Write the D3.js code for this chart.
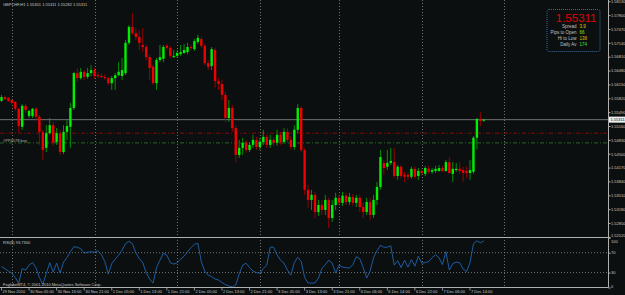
<!DOCTYPE html>
<html>
<head>
<meta charset="utf-8">
<script src="https://cdn.jsdelivr.net/npm/d3@7"></script>
<style>
  body { margin: 0; background: #0b0f10; }
  svg { display: block; font-family: "Liberation Sans", Arial, sans-serif; }
</style>
</head>
<body>
<svg id="chart" width="625" height="295"></svg>
<script>
// GBPCHF H1 candles, 29 Nov 21:00 .. 7 Dec 2010
const symbol = "GBPCHF,H1";
const lastQuote = ["1.55301", "1.55311", "1.55282", "1.55311"];

const opens = [
  1.5576,1.5585,1.5583,1.5578,1.5573,1.5557,1.5514,1.5564,1.5540,1.5540,
  1.5557,1.5538,1.5502,1.5464,1.5499,1.5518,1.5478,1.5499,1.5454,1.5502,
  1.5514,1.5559,1.5642,1.5630,1.5645,1.5633,1.5642,1.5649,1.5637,1.5635,
  1.5633,1.5630,1.5618,1.5630,1.5637,1.5635,1.5642,1.5714,1.5752,1.5737,
  1.5728,1.5709,1.5704,1.5680,1.5657,1.5618,1.5673,1.5676,1.5707,1.5702,
  1.5680,1.5683,1.5687,1.5690,1.5692,1.5704,1.5699,1.5716,1.5723,1.5707,
  1.5666,1.5659,1.5697,1.5623,1.5616,1.5590,1.5535,1.5559,1.5511,1.5447,
  1.5464,1.5476,1.5459,1.5471,1.5483,1.5466,1.5478,1.5490,1.5471,1.5483,
  1.5476,1.5495,1.5478,1.5502,1.5483,1.5466,1.5507,1.5559,1.5459,1.5364,
  1.5340,1.5352,1.5311,1.5328,1.5316,1.5340,1.5297,1.5328,1.5345,1.5333,
  1.5350,1.5335,1.5347,1.5333,1.5345,1.5323,1.5311,1.5335,1.5304,1.5340,
  1.5371,1.5428,1.5419,1.5428,1.5430,1.5397,1.5419,1.5400,1.5400,1.5395,
  1.5414,1.5397,1.5409,1.5402,1.5414,1.5407,1.5409,1.5409,1.5416,1.5409,
  1.5430,1.5402,1.5411,1.5414,1.5411,1.5409,1.5404,1.5407,1.5488,1.5533,
  1.5529
];
const highs = [
  1.5590,1.5588,1.5585,1.5580,1.5576,1.5559,1.5568,1.5568,1.5554,1.5559,
  1.5561,1.5542,1.5507,1.5518,1.5535,1.5526,1.5511,1.5507,1.5518,1.5530,
  1.5571,1.5645,1.5654,1.5654,1.5649,1.5654,1.5661,1.5654,1.5645,1.5642,
  1.5640,1.5633,1.5635,1.5642,1.5668,1.5678,1.5721,1.5756,1.5785,1.5749,
  1.5745,1.5749,1.5709,1.5685,1.5661,1.5678,1.5709,1.5709,1.5711,1.5707,
  1.5697,1.5697,1.5709,1.5711,1.5714,1.5709,1.5723,1.5733,1.5728,1.5711,
  1.5673,1.5704,1.5702,1.5630,1.5626,1.5597,1.5578,1.5566,1.5518,1.5483,
  1.5488,1.5483,1.5478,1.5495,1.5490,1.5488,1.5507,1.5495,1.5495,1.5490,
  1.5507,1.5502,1.5511,1.5511,1.5492,1.5518,1.5568,1.5564,1.5464,1.5376,
  1.5364,1.5359,1.5340,1.5340,1.5352,1.5345,1.5340,1.5357,1.5352,1.5359,
  1.5357,1.5357,1.5354,1.5352,1.5352,1.5333,1.5345,1.5345,1.5352,1.5383,
  1.5459,1.5435,1.5459,1.5464,1.5464,1.5423,1.5423,1.5407,1.5404,1.5419,
  1.5419,1.5416,1.5414,1.5421,1.5421,1.5416,1.5421,1.5423,1.5421,1.5435,
  1.5442,1.5430,1.5428,1.5430,1.5419,1.5419,1.5435,1.5492,1.5535,1.5549,
  1.5533
];
const lows = [
  1.5573,1.5578,1.5573,1.5568,1.5552,1.5502,1.5507,1.5547,1.5535,1.5535,
  1.5530,1.5471,1.5435,1.5454,1.5495,1.5469,1.5471,1.5447,1.5449,1.5483,
  1.5464,1.5554,1.5621,1.5626,1.5626,1.5628,1.5635,1.5628,1.5630,1.5630,
  1.5626,1.5614,1.5602,1.5602,1.5635,1.5626,1.5637,1.5709,1.5733,1.5721,
  1.5697,1.5692,1.5673,1.5626,1.5614,1.5602,1.5668,1.5668,1.5697,1.5678,
  1.5678,1.5678,1.5683,1.5687,1.5687,1.5697,1.5695,1.5711,1.5702,1.5661,
  1.5649,1.5649,1.5607,1.5602,1.5578,1.5526,1.5526,1.5502,1.5430,1.5440,
  1.5447,1.5452,1.5454,1.5464,1.5459,1.5459,1.5471,1.5464,1.5464,1.5469,
  1.5469,1.5471,1.5473,1.5476,1.5459,1.5459,1.5499,1.5454,1.5352,1.5321,
  1.5316,1.5297,1.5302,1.5304,1.5304,1.5273,1.5288,1.5316,1.5326,1.5326,
  1.5328,1.5328,1.5326,1.5323,1.5311,1.5297,1.5304,1.5292,1.5297,1.5328,
  1.5364,1.5400,1.5411,1.5423,1.5392,1.5388,1.5392,1.5383,1.5388,1.5390,
  1.5390,1.5388,1.5400,1.5397,1.5402,1.5402,1.5404,1.5407,1.5407,1.5407,
  1.5402,1.5383,1.5407,1.5402,1.5383,1.5392,1.5388,1.5402,1.5461,1.5516,
  1.5526
];
const closes = [
  1.5585,1.5580,1.5576,1.5571,1.5557,1.5516,1.5564,1.5554,1.5552,1.5557,
  1.5538,1.5502,1.5459,1.5499,1.5518,1.5476,1.5499,1.5454,1.5502,1.5516,
  1.5559,1.5642,1.5630,1.5645,1.5633,1.5642,1.5649,1.5635,1.5635,1.5633,
  1.5630,1.5618,1.5630,1.5637,1.5645,1.5649,1.5714,1.5752,1.5737,1.5728,
  1.5714,1.5704,1.5680,1.5654,1.5618,1.5673,1.5680,1.5704,1.5702,1.5683,
  1.5683,1.5690,1.5692,1.5697,1.5704,1.5702,1.5718,1.5726,1.5707,1.5666,
  1.5657,1.5699,1.5623,1.5616,1.5590,1.5535,1.5559,1.5511,1.5447,1.5464,
  1.5476,1.5459,1.5471,1.5483,1.5466,1.5478,1.5490,1.5471,1.5483,1.5476,
  1.5495,1.5478,1.5502,1.5483,1.5466,1.5507,1.5559,1.5459,1.5364,1.5340,
  1.5352,1.5311,1.5328,1.5316,1.5340,1.5297,1.5328,1.5345,1.5333,1.5350,
  1.5335,1.5347,1.5333,1.5345,1.5323,1.5311,1.5335,1.5304,1.5340,1.5371,
  1.5442,1.5416,1.5428,1.5433,1.5397,1.5419,1.5397,1.5395,1.5395,1.5414,
  1.5395,1.5409,1.5404,1.5416,1.5407,1.5411,1.5414,1.5416,1.5409,1.5430,
  1.5404,1.5414,1.5414,1.5409,1.5404,1.5404,1.5411,1.5488,1.5533,1.5528,
  1.5531
];

// RSI(8)
const rsi = [
  42,38,33,29,20,9,38,35,45,50,
  40,20,6,28,50,31,49,29,51,60,
  72,82,81,78,69,71,72,71,74,66,
  52,27,48,57,65,75,88,93,88,70,
  58,50,30,17,9,40,55,69,65,50,
  47,50,57,63,72,80,87,89,52,33,
  25,22,17,15,10,6,3,1,5,27,
  45,49,40,33,30,29,38,45,81,81,
  66,55,49,35,25,50,61,52,20,9,
  9,9,19,38,46,55,49,29,45,41,
  40,39,46,62,58,40,19,33,60,74,
  85,81,81,84,45,54,40,55,41,56,
  43,63,49,50,52,60,66,60,46,72,
  35,48,51,50,37,32,50,88,94,90,
  93.73
];

const timeLabels = ["29 Nov 2010", "30 Nov 05:00", "30 Nov 13:00", "30 Nov 21:00", "1 Dec 05:00",
  "1 Dec 13:00", "1 Dec 21:00", "2 Dec 05:00", "2 Dec 13:00", "2 Dec 21:00", "3 Dec 05:00",
  "3 Dec 13:00", "3 Dec 21:00", "6 Dec 06:00", "6 Dec 14:00", "6 Dec 22:00", "7 Dec 06:00", "7 Dec 14:00"];
const timeLabelBars = [0, 8, 16, 24, 32, 40, 48, 56, 64, 72, 80, 88, 96, 104, 112, 120, 128, 136];
const daySeparatorBars = [3, 27, 51, 75, 98, 122, 146];

const priceTicks = [1.5813, 1.5780, 1.5747, 1.5714, 1.5681, 1.5648, 1.5615, 1.5582, 1.5549,
  1.5516, 1.5483, 1.5450, 1.5417, 1.5384, 1.5351, 1.5318, 1.5285, 1.5252];
const rsiTicks = [100, 70, 30, 0];
const rsiLevels = [70, 30];

const bid = 1.55311;
const pivotRed = 1.5499;
const pivotGreen = 1.5476;
const pivotLabel = "#PP4578 buy";

const infoLabels = ["Spread", "Pips to Open", "Hi to Low", "Daily Av"];
const infoValues = ["3.9", "66", "138", "174"];
const infoColors = ["#e8c800", "#8ce000", "#e8b400", "#3ce03c"];

// layout
const W = 625, H = 295;
const plotRight = 608;
const mainTop = 0, mainBottom = 237.5;
const rsiTop = 237.8, rsiBottom = 287.5;
const fs = 4;

const svg = d3.select("#chart");

const x = d3.scaleLinear().domain([0, 176]).range([1.5, 607.8]);
const y = d3.scaleLinear().domain([1.5816 - mainBottom / 4200, 1.5816]).range([mainBottom, mainTop]);
const ry = d3.scaleLinear().domain([0, 100]).range([rsiBottom, rsiTop]);

svg.append("rect").attr("width", W).attr("height", H).attr("fill", "#0b0f10");

svg.append("defs").append("clipPath").attr("id", "mainClip")
  .append("rect").attr("x", 0).attr("y", 0).attr("width", plotRight).attr("height", mainBottom);

// vertical grid (day separators), both panes
const grid = svg.append("g").attr("stroke", "#8a8a8a").attr("stroke-width", 0.8)
  .attr("stroke-dasharray", "1,2");
grid.selectAll("line.v").data(daySeparatorBars).join("line")
  .attr("x1", d => Math.round(x(d)) + 0.5).attr("x2", d => Math.round(x(d)) + 0.5)
  .attr("y1", 0).attr("y2", rsiBottom);
grid.selectAll("line.h").data(rsiLevels).join("line")
  .attr("x1", 0).attr("x2", plotRight)
  .attr("y1", d => ry(d)).attr("y2", d => ry(d));

// pivot lines
svg.append("line").attr("x1", 0).attr("x2", plotRight)
  .attr("y1", y(pivotRed)).attr("y2", y(pivotRed))
  .attr("stroke", "#8c0a0a").attr("stroke-width", 1).attr("stroke-dasharray", "4,2,1,2");
svg.append("line").attr("x1", 0).attr("x2", plotRight)
  .attr("y1", y(pivotGreen)).attr("y2", y(pivotGreen))
  .attr("stroke", "#1c561c").attr("stroke-width", 1.2).attr("stroke-dasharray", "4,2,1,2");
svg.append("text").attr("x", 3).attr("y", y(pivotGreen) - 1)
  .attr("fill", "#b4b4b4").attr("font-size", fs).text(pivotLabel);

// bid line
svg.append("line").attr("x1", 0).attr("x2", plotRight)
  .attr("y1", y(bid)).attr("y2", y(bid))
  .attr("stroke", "#8c8c8c").attr("stroke-width", 0.8);

// candles
const bars = d3.range(opens.length).map(i => ({
  i, o: opens[i], h: highs[i], l: lows[i], c: closes[i]
}));
const candles = svg.append("g").attr("clip-path", "url(#mainClip)");
candles.selectAll("line").data(bars).join("line")
  .attr("x1", d => x(d.i)).attr("x2", d => x(d.i))
  .attr("y1", d => y(d.h)).attr("y2", d => y(d.l))
  .attr("stroke", d => d.c >= d.o ? "#00b400" : "#b40000")
  .attr("stroke-width", 0.8);
candles.selectAll("rect").data(bars).join("rect")
  .attr("x", d => x(d.i) - 1.2).attr("width", 2.4)
  .attr("y", d => y(Math.max(d.o, d.c)))
  .attr("height", d => Math.max(1, Math.abs(y(d.o) - y(d.c))))
  .attr("fill", d => d.c >= d.o ? "#00f000" : "#f00000");

// RSI line
svg.append("path")
  .datum(rsi)
  .attr("fill", "none").attr("stroke", "#1f64b0").attr("stroke-width", 0.9)
  .attr("d", d3.line().x((d, i) => x(i)).y(d => ry(d)));

// frames
const frame = svg.append("g").attr("stroke", "#b0b0b0").attr("stroke-width", 1);
frame.append("line").attr("x1", plotRight + 0.5).attr("x2", plotRight + 0.5).attr("y1", 0).attr("y2", rsiBottom);
frame.append("line").attr("x1", 0).attr("x2", plotRight + 0.5).attr("y1", 237.5).attr("y2", 237.5);
frame.append("line").attr("x1", 0).attr("x2", plotRight + 0.5).attr("y1", rsiBottom).attr("y2", rsiBottom);

// price axis
const priceAxis = svg.append("g").attr("transform", `translate(${plotRight + 0.5},0)`)
  .call(d3.axisRight(y).tickValues(priceTicks).tickSize(2).tickFormat(d3.format(".5f")));
priceAxis.select(".domain").remove();
priceAxis.selectAll("line").attr("stroke", "#b0b0b0");
priceAxis.selectAll("text").attr("fill", "#c8c8c8").attr("font-size", fs)
  .attr("font-family", "Liberation Sans, Arial, sans-serif").attr("x", 2.5);
priceAxis.selectAll(".tick").filter(d => d === priceTicks[priceTicks.length - 1])
  .select("text").attr("dy", "-0.2em");

// current price box
const bidG = svg.append("g").attr("transform", `translate(${plotRight + 1},${y(bid)})`);
bidG.append("rect").attr("x", 0).attr("y", -3).attr("width", 16).attr("height", 6).attr("fill", "#f0f0f0");
bidG.append("text").attr("x", 1.5).attr("y", 1.5).attr("fill", "#000").attr("font-size", fs)
  .text(d3.format(".5f")(bid));

// RSI axis
const rsiAxis = svg.append("g").attr("transform", `translate(${plotRight + 0.5},0)`)
  .call(d3.axisRight(ry).tickValues(rsiTicks).tickSize(2));
rsiAxis.select(".domain").remove();
rsiAxis.selectAll("line").attr("stroke", "#b0b0b0");
rsiAxis.selectAll("text").attr("fill", "#c8c8c8").attr("font-size", fs)
  .attr("font-family", "Liberation Sans, Arial, sans-serif").attr("x", 2.5);
rsiAxis.selectAll(".tick").filter(d => d === 100).select("text").attr("dy", "1.15em");
rsiAxis.selectAll(".tick").filter(d => d === 0).select("text").attr("dy", "0em");

// time axis
const timeAxis = svg.append("g");
timeAxis.selectAll("line").data(timeLabelBars).join("line")
  .attr("x1", d => x(d)).attr("x2", d => x(d))
  .attr("y1", rsiBottom).attr("y2", rsiBottom + 3)
  .attr("stroke", "#b0b0b0").attr("stroke-width", 0.8);
timeAxis.selectAll("text").data(timeLabelBars).join("text")
  .attr("x", d => x(d) + 1).attr("y", 293)
  .attr("fill", "#c8c8c8").attr("font-size", fs)
  .text((d, i) => timeLabels[i]);

// headers
svg.append("text").attr("x", 3).attr("y", 6).attr("fill", "#c8c8c8").attr("font-size", fs)
  .text(symbol + "  " + lastQuote.join(" "));
svg.append("text").attr("x", 3).attr("y", 244).attr("fill", "#c8c8c8").attr("font-size", fs)
  .text("RSI(8) " + d3.format(".4f")(rsi[rsi.length - 1]));
svg.append("text").attr("x", 3).attr("y", 285.5).attr("fill", "#c8c8c8").attr("font-size", fs)
  .text("FxglobeMT4, \u00a9 2001-2010 MetaQuotes Software Corp.");

// info panel
const info = svg.append("g");
info.append("rect").attr("x", 547).attr("y", 9.5).attr("width", 53).attr("height", 42).attr("rx", 2)
  .attr("fill", "none").attr("stroke", "#3e6a9a").attr("stroke-width", 1).attr("stroke-dasharray", "1,1");
info.append("text").attr("x", 596.5).attr("y", 21.5).attr("text-anchor", "end")
  .attr("fill", "#e00000").attr("font-size", 11.5).text(d3.format(".5f")(bid));
info.selectAll("text.lbl").data(infoLabels).join("text").attr("class", "lbl")
  .attr("x", 576.5).attr("y", (d, i) => 27.5 + i * 6.1).attr("text-anchor", "end")
  .attr("fill", "#c0c0c0").attr("font-size", 4.5).text(d => d);
info.selectAll("text.val").data(infoValues).join("text").attr("class", "val")
  .attr("x", 579.5).attr("y", (d, i) => 27.5 + i * 6.1)
  .attr("fill", (d, i) => infoColors[i]).attr("font-size", 4.5).text(d => d);
</script>
</body>
</html>
